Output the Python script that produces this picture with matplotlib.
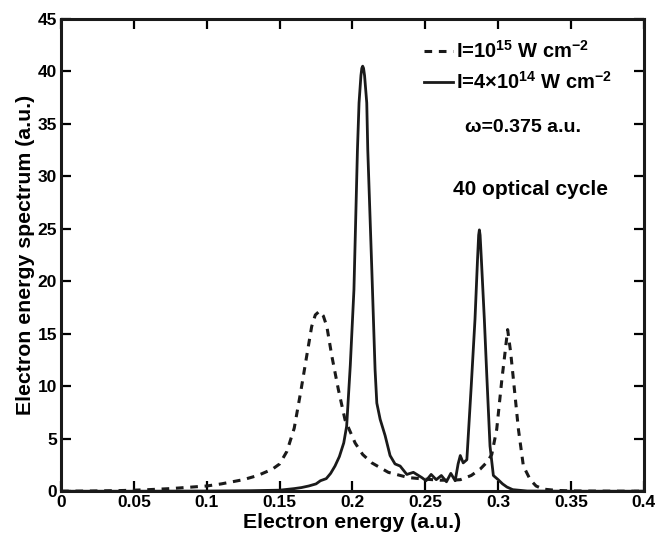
import matplotlib
matplotlib.use('Agg')
import matplotlib.pyplot as plt
from matplotlib.lines import Line2D

plt.rcParams['font.family'] = ['Liberation Sans', 'DejaVu Sans']
plt.rcParams['font.weight'] = 'bold'
plt.rcParams['mathtext.fontset'] = 'custom'
plt.rcParams['mathtext.rm'] = 'Liberation Sans:bold'
plt.rcParams['mathtext.bf'] = 'Liberation Sans:bold'
plt.rcParams['mathtext.default'] = 'bf'

# I = 1e15 W/cm^2 (dashed)
e_high = [0.0, 0.02, 0.04, 0.05, 0.06, 0.075, 0.09, 0.1, 0.11, 0.125, 0.135, 0.14,
          0.145, 0.15, 0.155, 0.16, 0.1645, 0.1686, 0.172, 0.1745, 0.1773,
          0.18, 0.1824, 0.1858, 0.1903, 0.1949, 0.2018, 0.207, 0.2133,
          0.2246, 0.2384, 0.25, 0.26, 0.268, 0.274, 0.2815, 0.2876, 0.2925,
          0.2956, 0.299, 0.3025, 0.3047, 0.3065, 0.3086, 0.3105, 0.3139,
          0.3173, 0.322, 0.326, 0.331, 0.34, 0.35, 0.37, 0.4]
s_high = [0.0, 0.02, 0.06, 0.1, 0.15, 0.25, 0.4, 0.5, 0.7, 1.1, 1.5, 1.8,
          2.1, 2.6, 3.8, 6.0, 9.5, 12.9, 15.7, 16.8, 17.15,
          16.7, 15.7, 12.9, 9.7, 6.8, 4.6, 3.5, 2.7,
          1.8, 1.3, 1.15, 1.05, 1.05, 1.1, 1.5, 2.1, 2.8,
          3.5, 5.9, 10.6, 13.2, 15.4, 13.2, 10.6, 5.9,
          2.4, 1.1, 0.5, 0.2, 0.08, 0.03, 0.01, 0.0]

# I = 4e14 W/cm^2 (solid)
e_low = [0.0, 0.05, 0.1, 0.13, 0.15, 0.16, 0.165, 0.17, 0.175, 0.178, 0.182,
         0.185, 0.188, 0.191, 0.194, 0.196, 0.1985, 0.201, 0.2034, 0.2045,
         0.2058, 0.2064, 0.207, 0.2076, 0.2083, 0.2098, 0.2105, 0.2133,
         0.2155, 0.2167, 0.219, 0.2224, 0.2258, 0.2292, 0.2327, 0.2373,
         0.2418, 0.2476, 0.2505, 0.254, 0.2575, 0.261, 0.2645, 0.2675,
         0.2705, 0.2725, 0.274, 0.276, 0.2785, 0.2815, 0.2841, 0.2858,
         0.2866, 0.2871, 0.2876, 0.2885, 0.2905, 0.2922, 0.2944, 0.2967,
         0.3, 0.303, 0.306, 0.31, 0.32, 0.35, 0.4]
s_low = [0.0, 0.0, 0.02, 0.05, 0.1, 0.25, 0.35, 0.5, 0.7, 1.0, 1.2,
         1.7, 2.4, 3.3, 4.6, 6.2, 12.0, 19.2, 32.5, 37.0,
         39.6, 40.3, 40.5, 40.3, 39.6, 37.0, 32.5, 21.0,
         11.6, 8.4, 6.85, 5.3, 3.4, 2.6, 2.4, 1.6,
         1.8, 1.3, 1.0, 1.6, 1.1, 1.5, 0.9, 1.7,
         1.0, 2.6, 3.4, 2.7, 3.0, 10.0, 16.4, 22.0,
         24.4, 24.9, 24.4, 22.0, 16.4, 11.0, 4.3, 1.5,
         1.1, 0.7, 0.4, 0.15, 0.02, 0.0, 0.0]

x_ticks = [0, 0.05, 0.1, 0.15, 0.2, 0.25, 0.3, 0.35, 0.4]
x_labels = ['0', '0.05', '0.1', '0.15', '0.2', '0.25', '0.3', '0.35', '0.4']
y_ticks = [0, 5, 10, 15, 20, 25, 30, 35, 40, 45]

fig = plt.figure(figsize=(6.57, 5.41), dpi=100)
ax = fig.add_axes([0.093, 0.092, 0.887, 0.873])

ax.plot(e_high, s_high, color='#1a1a1a', linestyle=(0, (2.5, 2.2)), linewidth=2.2)
ax.plot(e_low, s_low, color='#1a1a1a', linestyle='-', linewidth=2.0)

ax.set_xlim(0, 0.4)
ax.set_ylim(0, 45)
ax.set_xticks(x_ticks)
ax.set_xticklabels(x_labels)
ax.set_yticks(y_ticks)
ax.tick_params(direction='in', top=True, right=True, length=7, width=1.6,
               labelsize=12.5, pad=3)
for s in ax.spines.values():
    s.set_linewidth(2.2)
    s.set_color('#1a1a1a')

ax.set_xlabel('Electron energy (a.u.)', fontsize=15.3, fontweight='bold', labelpad=2)
ax.set_ylabel('Electron energy spectrum (a.u.)', fontsize=15.3, fontweight='bold', labelpad=2)

handles = [Line2D([], [], color='#1a1a1a', linestyle=(0, (2.5, 2.2)), linewidth=2.2),
           Line2D([], [], color='#1a1a1a', linestyle='-', linewidth=2.0)]
labels = [r'I=10$^{15}$ W cm$^{-2}$', r'I=4$\times$10$^{14}$ W cm$^{-2}$']
ax.legend(handles, labels, loc='upper left', bbox_to_anchor=(0.622, 0.955), frameon=False,
          handlelength=1.45, handletextpad=0.15, labelspacing=0.45,
          borderpad=0, borderaxespad=0, prop={'weight': 'bold', 'size': 14.5})

ax.text(0.693, 0.77, '\u03c9=0.375 a.u.', transform=ax.transAxes, fontsize=14,
        fontweight='bold', ha='left', va='center')
ax.text(0.672, 0.638, '40 optical cycle', transform=ax.transAxes, fontsize=15,
        fontweight='bold', ha='left', va='center')

fig.savefig('out.png', dpi=100)
